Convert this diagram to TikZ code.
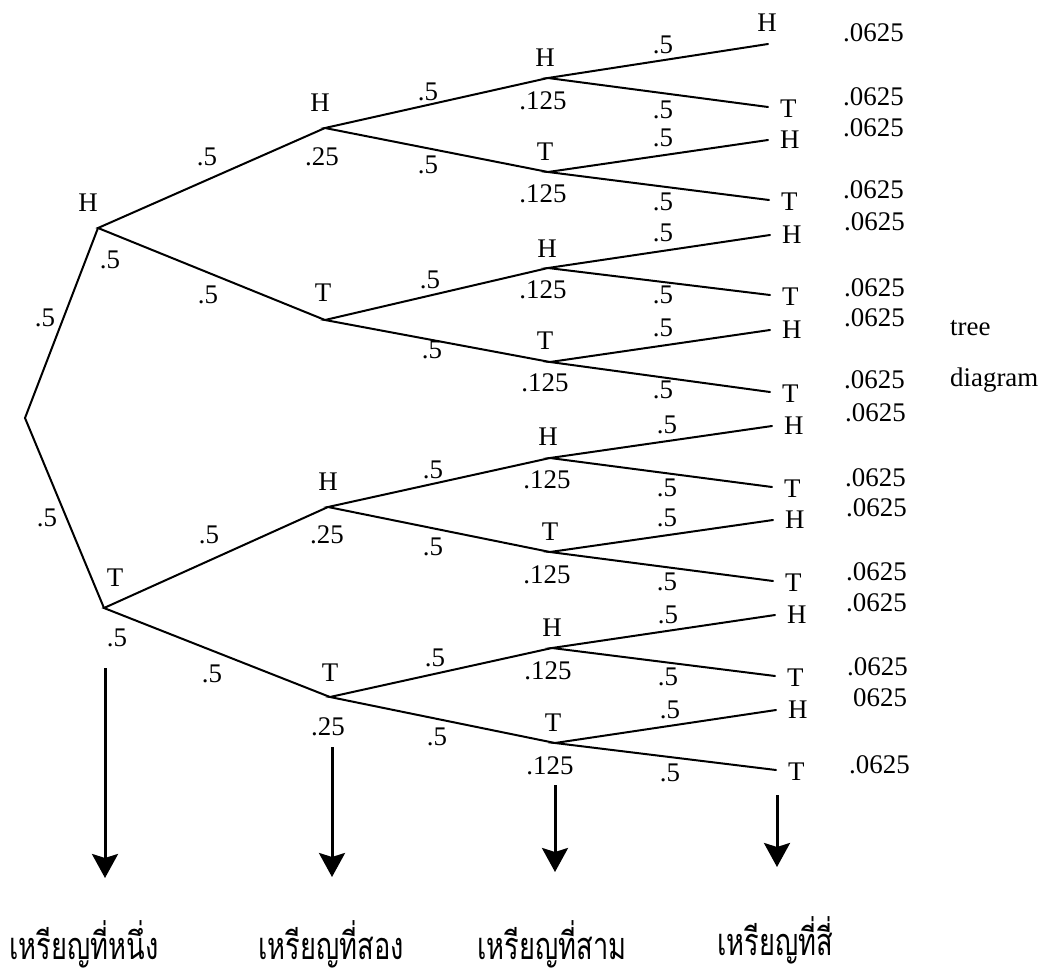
\documentclass[tikz,border=0pt]{standalone}
\usepackage{fontspec}
\setmainfont{Liberation Serif}
\newfontfamily\thaifont[Script=Thai,FakeStretch=0.72]{Loma}
\usetikzlibrary{arrows.meta}
\begin{document}
\begin{tikzpicture}[x=1bp,y=-1bp,
  edge/.style={line width=2bp, line cap=round},
  txt/.style={inner sep=0pt, font=\fontsize{27}{32}\selectfont},
  leaf/.style={txt, anchor=west},
  bigarrow/.style={line width=3bp, -{Stealth[length=24bp,width=26bp,inset=4bp]}},
  thai/.style={inner sep=0pt, font=\thaifont\fontsize{38}{44}\selectfont}]
\useasboundingbox (0,0) rectangle (1048,980);

% junctions
\coordinate (r) at (25,418);
\coordinate (a1) at (98,228);
\coordinate (a2) at (104,608);
\coordinate (b1) at (325,128);
\coordinate (b2) at (325,320);
\coordinate (b3) at (328,507);
\coordinate (b4) at (330,697);
\coordinate (c1) at (548,78);
\coordinate (c2) at (548,172);
\coordinate (c3) at (548,268);
\coordinate (c4) at (550,362);
\coordinate (c5) at (550,458);
\coordinate (c6) at (550,552);
\coordinate (c7) at (552,648);
\coordinate (c8) at (555,743);
\coordinate (d1) at (768,44);
\coordinate (d2) at (768,107);
\coordinate (d3) at (768,140);
\coordinate (d4) at (769,200);
\coordinate (d5) at (770,235);
\coordinate (d6) at (770,295);
\coordinate (d7) at (770,330);
\coordinate (d8) at (770,392);
\coordinate (d9) at (772,426);
\coordinate (d10) at (772,487);
\coordinate (d11) at (773,520);
\coordinate (d12) at (773,581);
\coordinate (d13) at (775,615);
\coordinate (d14) at (775,676);
\coordinate (d15) at (776,710);
\coordinate (d16) at (776,770);

% edges
\draw[edge] (a1) -- (r) -- (a2);
\draw[edge] (b1) -- (a1) -- (b2);
\draw[edge] (b3) -- (a2) -- (b4);
\draw[edge] (c1) -- (b1) -- (c2);
\draw[edge] (c3) -- (b2) -- (c4);
\draw[edge] (c5) -- (b3) -- (c6);
\draw[edge] (c7) -- (b4) -- (c8);
\draw[edge] (d1) -- (c1) -- (d2);
\draw[edge] (d3) -- (c2) -- (d4);
\draw[edge] (d5) -- (c3) -- (d6);
\draw[edge] (d7) -- (c4) -- (d8);
\draw[edge] (d9) -- (c5) -- (d10);
\draw[edge] (d11) -- (c6) -- (d12);
\draw[edge] (d13) -- (c7) -- (d14);
\draw[edge] (d15) -- (c8) -- (d16);

% level 1 labels
\node[txt] (pra1) at (45,318) {.5};
\node[txt] (pra2) at (47,518) {.5};
\node[txt] (la1) at (88,203) {H};
\node[txt] (qa1) at (110,260) {.5};
\node[txt] (la2) at (115,578) {T};
\node[txt] (qa2) at (117,638) {.5};

% level 2 labels
\node[txt] (prb1) at (207,157) {.5};
\node[txt] (prb2) at (208,295) {.5};
\node[txt] (prb3) at (209,535) {.5};
\node[txt] (prb4) at (212,674) {.5};
\node[txt] (lb1) at (320,103) {H};
\node[txt] (qb1) at (322,157) {.25};
\node[txt] (lb2) at (323,293) {T};
\node[txt] (lb3) at (328,482) {H};
\node[txt] (qb3) at (327,535) {.25};
\node[txt] (lb4) at (330,673) {T};
\node[txt] (qb4) at (328,727) {.25};

% level 3 labels
\node[txt] (prc1) at (428,92) {.5};
\node[txt] (prc2) at (428,165) {.5};
\node[txt] (prc3) at (430,280) {.5};
\node[txt] (prc4) at (432,350) {.5};
\node[txt] (prc5) at (433,470) {.5};
\node[txt] (prc6) at (433,547) {.5};
\node[txt] (prc7) at (435,658) {.5};
\node[txt] (prc8) at (437,737) {.5};
\node[txt] (lc1) at (545,58) {H};
\node[txt] (qc1) at (543,101) {.125};
\node[txt] (lc2) at (545,152) {T};
\node[txt] (qc2) at (543,194) {.125};
\node[txt] (lc3) at (547,249) {H};
\node[txt] (qc3) at (543,290) {.125};
\node[txt] (lc4) at (545,341) {T};
\node[txt] (qc4) at (545,383) {.125};
\node[txt] (lc5) at (548,437) {H};
\node[txt] (qc5) at (547,480) {.125};
\node[txt] (lc6) at (550,532) {T};
\node[txt] (qc6) at (547,575) {.125};
\node[txt] (lc7) at (552,628) {H};
\node[txt] (qc7) at (548,671) {.125};
\node[txt] (lc8) at (553,723) {T};
\node[txt] (qc8) at (550,766) {.125};

% level 4 edge labels
\node[txt] (prd1) at (663,45) {.5};
\node[txt] (prd2) at (663,110) {.5};
\node[txt] (prd3) at (663,138) {.5};
\node[txt] (prd4) at (663,202) {.5};
\node[txt] (prd5) at (663,233) {.5};
\node[txt] (prd6) at (663,295) {.5};
\node[txt] (prd7) at (663,328) {.5};
\node[txt] (prd8) at (663,390) {.5};
\node[txt] (prd9) at (667,425) {.5};
\node[txt] (prd10) at (667,488) {.5};
\node[txt] (prd11) at (667,518) {.5};
\node[txt] (prd12) at (667,582) {.5};
\node[txt] (prd13) at (668,615) {.5};
\node[txt] (prd14) at (668,677) {.5};
\node[txt] (prd15) at (670,710) {.5};
\node[txt] (prd16) at (670,773) {.5};

% leaf letters
\node[txt] (ld1) at (767,23) {H};
\node[leaf] (ld2) at (780,109) {T};
\node[leaf] (ld3) at (780,140) {H};
\node[leaf] (ld4) at (781,202) {T};
\node[leaf] (ld5) at (782,235) {H};
\node[leaf] (ld6) at (782,297) {T};
\node[leaf] (ld7) at (782,330) {H};
\node[leaf] (ld8) at (782,394) {T};
\node[leaf] (ld9) at (784,426) {H};
\node[leaf] (ld10) at (784,489) {T};
\node[leaf] (ld11) at (785,520) {H};
\node[leaf] (ld12) at (785,583) {T};
\node[leaf] (ld13) at (787,615) {H};
\node[leaf] (ld14) at (787,678) {T};
\node[leaf] (ld15) at (788,710) {H};
\node[leaf] (ld16) at (788,772) {T};

% final probabilities
\node[leaf] (p1) at (843,33) {.0625};
\node[leaf] (p2) at (843,97) {.0625};
\node[leaf] (p3) at (843,128) {.0625};
\node[leaf] (p4) at (843,190) {.0625};
\node[leaf] (p5) at (844,222) {.0625};
\node[leaf] (p6) at (844,288) {.0625};
\node[leaf] (p7) at (844,318) {.0625};
\node[leaf] (p8) at (844,380) {.0625};
\node[leaf] (p9) at (845,413) {.0625};
\node[leaf] (p10) at (845,478) {.0625};
\node[leaf] (p11) at (846,508) {.0625};
\node[leaf] (p12) at (846,572) {.0625};
\node[leaf] (p13) at (846,603) {.0625};
\node[leaf] (p14) at (847,667) {.0625};
\node[leaf] (p15) at (853,698) {0625};
\node[leaf] (p16) at (849,765) {.0625};

\node[leaf] (tree) at (950,328) {tree};
\node[leaf] (diag) at (950,380) {diagram};

% arrows
\coordinate (s1) at (105,668);
\coordinate (e1) at (105,878);
\coordinate (s2) at (332,747);
\coordinate (e2) at (332,877);
\coordinate (s3) at (555,785);
\coordinate (e3) at (555,872);
\coordinate (s4) at (777,795);
\coordinate (e4) at (777,867);
\draw[bigarrow] (s1) -- (e1);
\draw[bigarrow] (s2) -- (e2);
\draw[bigarrow] (s3) -- (e3);
\draw[bigarrow] (s4) -- (e4);

% Thai labels
\node[thai] (t1) at (84,944) {เหรียญที่หนึ่ง};
\node[thai] (t2) at (331,944) {เหรียญที่สอง};
\node[thai] (t3) at (552,944) {เหรียญที่สาม};
\node[thai] (t4) at (775,940) {เหรียญที่สี่};
\end{tikzpicture}
\end{document}
